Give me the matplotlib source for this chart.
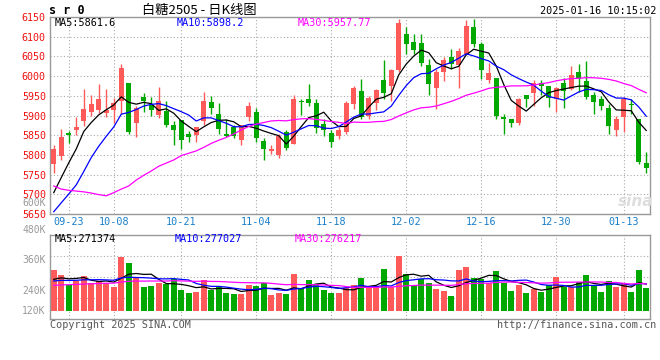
import numpy as np
import pandas as pd
import matplotlib
matplotlib.use("Agg")
import matplotlib.pyplot as plt

plt.rcParams['font.family'] = ['DejaVu Sans Mono', 'Noto Sans CJK SC']

# daily OHLC, 2024-09-19 .. 2025-01-16
open_ = [5778, 5798, 5856, 5862, 5885, 5908, 5914, 5907, 5914, 5936,
         5983, 5880, 5947, 5927, 5901, 5911, 5875, 5888, 5852, 5850,
         5886, 5935, 5905, 5854, 5870, 5837, 5897, 5910, 5836, 5809,
         5799, 5858, 5828, 5936, 5941, 5932, 5879, 5856, 5847, 5858,
         5930, 5962, 5898, 5931, 5989, 5976, 6015, 6108, 6087, 6083,
         6027, 5970, 6010, 6048, 6028, 6055, 6125, 6081, 5990, 5996,
         5897, 5890, 5880, 5953, 5956, 5983, 5976, 5942, 5983, 5968,
         6011, 5987, 5953, 5942, 5920, 5863, 5897, 5929, 5890, 5780]
high = [5826, 5866, 5860, 5896, 5966, 5951, 5979, 5968, 5944, 6030,
        5983, 5925, 5956, 5947, 5973, 5936, 5886, 5888, 5860, 5870,
        5959, 5949, 5932, 5890, 5875, 5875, 5934, 5919, 5843, 5824,
        5852, 5863, 5951, 5942, 5980, 5942, 5890, 5862, 5871, 5936,
        5976, 5992, 5949, 5968, 6040, 6019, 6144, 6125, 6108, 6108,
        6044, 6019, 6049, 6070, 6072, 6142, 6144, 6086, 6032, 5996,
        5903, 5892, 5945, 5953, 5989, 5989, 5976, 5972, 5996, 6025,
        6031, 6038, 5959, 5949, 5928, 5898, 5947, 5941, 5890, 5808]
low = [5753, 5788, 5829, 5850, 5873, 5898, 5907, 5897, 5880, 5903,
       5852, 5845, 5910, 5898, 5894, 5871, 5824, 5814, 5832, 5832,
       5877, 5905, 5852, 5846, 5842, 5826, 5886, 5832, 5786, 5803,
       5791, 5812, 5828, 5901, 5925, 5856, 5849, 5820, 5841, 5853,
       5917, 5892, 5892, 5915, 5943, 5936, 6010, 6055, 6057, 6025,
       5953, 5917, 5987, 6019, 5970, 6055, 6075, 5993, 5983, 5892,
       5854, 5870, 5875, 5922, 5925, 5953, 5922, 5908, 5919, 5964,
       5959, 5941, 5903, 5914, 5852, 5847, 5858, 5905, 5778, 5754]
close = [5814, 5845, 5850, 5871, 5917, 5928, 5942, 5915, 5931, 6021,
         5858, 5919, 5938, 5914, 5936, 5877, 5864, 5839, 5845, 5870,
         5938, 5919, 5867, 5849, 5847, 5875, 5924, 5843, 5814, 5816,
         5847, 5818, 5943, 5935, 5931, 5869, 5864, 5832, 5864, 5932,
         5970, 5897, 5944, 5964, 5956, 6015, 6136, 6082, 6065, 6032,
         5981, 6010, 6040, 6030, 6063, 6127, 6081, 6015, 6007, 5898,
         5892, 5880, 5943, 5943, 5983, 5976, 5945, 5970, 5962, 6002,
         5993, 5947, 5934, 5925, 5873, 5892, 5943, 5927, 5781, 5767]
# volume in thousands of lots
volume = [421, 366, 260, 301, 356, 281, 301, 288, 243, 551,
          490, 336, 243, 253, 288, 274, 325, 212, 181, 192,
          315, 216, 240, 181, 175, 175, 267, 253, 284, 161,
          181, 171, 377, 233, 315, 274, 212, 181, 181, 233,
          264, 336, 233, 236, 428, 240, 561, 377, 264, 329,
          284, 226, 202, 151, 418, 449, 336, 322, 288, 408,
          281, 202, 260, 178, 219, 192, 260, 346, 246, 240,
          295, 366, 253, 192, 305, 243, 281, 192, 418, 233]

# sessions before the window (estimated), only used for the moving averages
prior_close = [6085, 5940, 5931, 5977, 6018, 6062, 6005, 5691, 5751, 5618,
               5469, 5578, 5584, 5576, 5637, 5624, 5509, 5665, 5690, 5668,
               5619, 5627, 5639, 5577, 5575, 5654, 5663, 5694, 5696]
prior_volume = [230, 195, 210, 240, 205, 190, 225, 220, 212, 245,
                270, 260, 230, 290, 255, 240, 275, 250, 265, 243,
                300, 270, 285, 310, 275, 290, 310, 280, 309]

holidays = ['2024-10-01', '2024-10-02', '2024-10-03', '2024-10-04',
            '2024-10-07', '2025-01-01']
tick_dates = ['09-23', '10-08', '10-21', '11-04', '11-18',
              '12-02', '12-16', '12-30', '01-13']
price_ticks = [5650, 5700, 5750, 5800, 5850, 5900, 5950, 6000, 6050, 6100, 6150]
vol_labels = ['600K', '480K', '360K', '240K', '120K']

RED = '#FF5A5A'
GREEN = '#00A800'
GRID = '#AAAAAA'
MA_COLORS = {5: 'black', 10: '#0000FF', 30: '#FF00FF'}

days = pd.bdate_range('2024-09-19', '2025-01-16')
days = days[~days.isin(pd.to_datetime(holidays))]
labels = [d.strftime('%m-%d') for d in days]
tick_idx = [labels.index(t) for t in tick_dates]

o = np.array(open_, float)
h = np.array(high, float)
l = np.array(low, float)
c = np.array(close, float)
v = np.array(volume, float)
x = np.arange(len(c))
cols = np.where(c >= o, RED, GREEN)


def moving(prior, vals, n):
    s = pd.Series(list(prior) + list(vals), dtype=float)
    return s.rolling(n).mean().to_numpy()[len(prior):]


fig = plt.figure(figsize=(6.6, 3.6), dpi=100)
ax = fig.add_axes([50 / 660, (360 - 214) / 360, 600 / 660, 197 / 360])
axv = fig.add_axes([50 / 660, (360 - 318.5) / 360, 600 / 660, 83.8 / 360])

for a in (ax, axv):
    a.set_xlim(-0.5, len(c) - 0.5)
    for sp in a.spines.values():
        sp.set_color('#999999')
        sp.set_linewidth(1)
    a.set_xticks(tick_idx)
    a.grid(axis='x', color=GRID, linestyle=(0, (1, 2)), linewidth=0.8)
    a.tick_params(length=0)
    a.set_axisbelow(True)

# price panel
ax.set_ylim(5650, 6150)
ax.set_yticks(price_ticks)
ax.grid(axis='y', color=GRID, linestyle=(0, (1, 2)), linewidth=0.8)
ax.tick_params(axis='y', labelcolor='#EE1111', labelsize=7.2, pad=3)
ax.set_xticklabels(tick_dates)
ax.tick_params(axis='x', labelcolor='#1A7FC9', labelsize=7.3, pad=2.5)

ax.vlines(x, l, h, colors=cols, linewidth=1, zorder=2)
ax.bar(x, np.maximum(np.abs(c - o), 1.5), bottom=np.minimum(o, c),
       width=0.66, color=cols, linewidth=0, zorder=3)
for n, colr in MA_COLORS.items():
    ax.plot(x, moving(prior_close, c, n), color=colr, linewidth=0.9, zorder=4)

ax.text(0.008, 0.97, 'MA5:5861.6', color='black', fontsize=7.3,
        transform=ax.transAxes, va='center')
ax.text(0.211, 0.97, 'MA10:5898.2', color='#0000FF', fontsize=7.3,
        transform=ax.transAxes, va='center')
ax.text(0.413, 0.97, 'MA30:5957.77', color='#FF00FF', fontsize=7.3,
        transform=ax.transAxes, va='center')

# volume panel
axv.set_ylim(-80, 780)
axv.set_yticks([])
axv.set_xticklabels([])
for f in (0.25, 0.5, 0.75):
    axv.plot([0, 1], [f, f], transform=axv.transAxes, color=GRID,
             linestyle=(0, (1, 2)), linewidth=0.8, zorder=0)
axv.bar(x, v, width=0.76, color=cols, linewidth=0, zorder=2)
for n, colr in MA_COLORS.items():
    axv.plot(x, moving(prior_volume, v, n), color=colr, linewidth=0.9, zorder=3)

for lab, yf in zip(vol_labels, [1.382, 1.052, 0.694, 0.328, 0.095]):
    axv.text(-0.007, yf, lab, color='#999999', fontsize=7.0, ha='right',
             va='center', transform=axv.transAxes, clip_on=False)

axv.text(0.008, 0.95, 'MA5:271374', color='black', fontsize=7.3,
         transform=axv.transAxes, va='center')
axv.text(0.208, 0.95, 'MA10:277027', color='#0000FF', fontsize=7.3,
         transform=axv.transAxes, va='center')
axv.text(0.408, 0.95, 'MA30:276217', color='#FF00FF', fontsize=7.3,
         transform=axv.transAxes, va='center')

# header / footer
fig.text(49 / 660, 1 - 11 / 360, 's r 0', fontsize=8.5, fontweight='bold',
         va='center')
fig.text(142 / 660, 1 - 10 / 360, '白糖2505 - 日K线图', fontsize=9.5,
         family=['Noto Sans CJK SC', 'DejaVu Sans'], va='center')
fig.text(656 / 660, 1 - 11 / 360, '2025-01-16 10:15:02', fontsize=7.3,
         ha='right', va='center')
fig.text(50 / 660, 1 - 325 / 360, 'Copyright 2025 SINA.COM', fontsize=7.3,
         color='#555555', va='center')
fig.text(656 / 660, 1 - 325 / 360, 'http://finance.sina.com.cn', fontsize=7.3,
         color='#555555', ha='right', va='center')
fig.text(636 / 660, 1 - 201 / 360, 'sina', fontsize=11, color='#DDDDDD',
         style='italic', fontweight='bold', family='DejaVu Sans',
         ha='center', va='center')

fig.savefig('out.png', dpi=100)
